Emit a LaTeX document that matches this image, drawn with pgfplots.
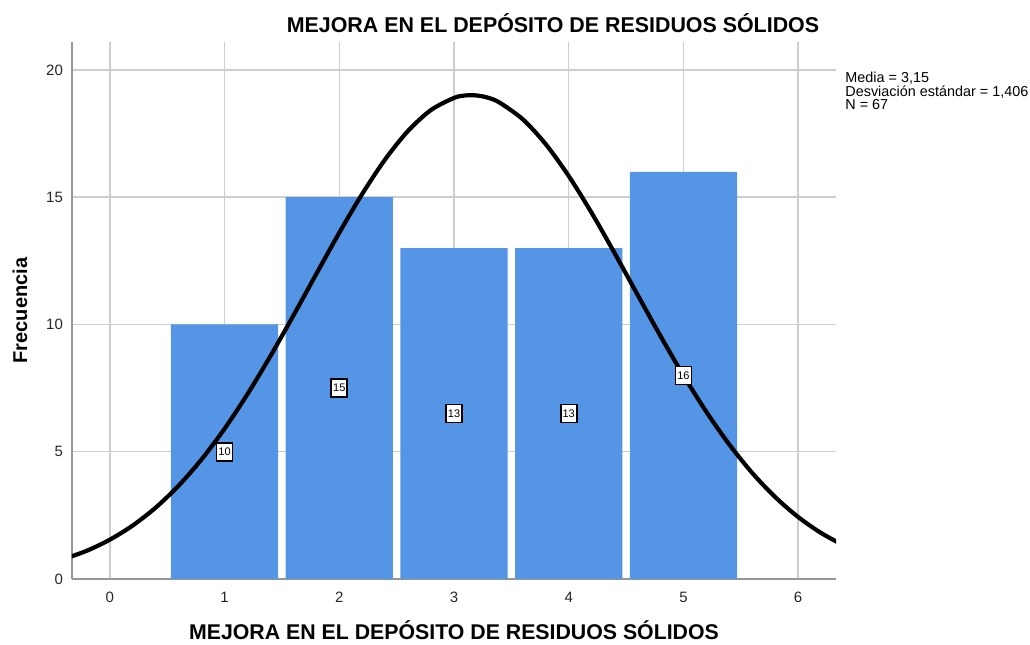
\documentclass[border=0pt]{standalone}
\usepackage{pgfplots}
\pgfplotsset{compat=1.18}
\usepackage{fontspec}
\setmainfont{Liberation Sans}
\definecolor{barblue}{RGB}{84,149,229}
\definecolor{gridgray}{RGB}{206,206,206}
\definecolor{axgray}{RGB}{150,150,150}
\begin{document}
\begin{tikzpicture}
\begin{axis}[
 scale only axis, width=382pt, height=268.5pt,
 xmin=-0.33, xmax=6.33, ymin=0, ymax=21.1,
 axis x line=bottom, axis y line=left,
 axis line style={-, draw=axgray, line width=1pt},
 xtick={0,1,2,3,4,5,6}, ytick={0,5,10,15,20},
 major tick length=0pt,
 grid=major, grid style={draw=gridgray, line width=0.75pt},
 tick label style={font=\fontsize{7.5}{9}\selectfont, text=black!85},
 xticklabel style={yshift=-3pt}, yticklabel style={xshift=-1pt},
 /pgf/number format/assume math mode=true,
 clip mode=individual,
]
\addplot[ybar, bar width=0.935, fill=barblue, draw=none] coordinates {
 (1,10) (2,15) (3,13) (4,13) (5,16)
};
\addplot[black, line width=2.1pt, smooth] coordinates {
 (-0.4,0.785) (-0.2,1.112) (0,1.545) (0.2,2.104) (0.4,2.807) (0.6,3.670)
 (0.8,4.703) (1.0,5.905) (1.2,7.266) (1.4,8.761) (1.6,10.353) (1.8,11.989)
 (2.0,13.606) (2.2,15.130) (2.4,16.489) (2.6,17.610) (2.8,18.430) (3.0,18.902)
 (3.1,19.000) (3.2,18.998) (3.3,18.906) (3.4,18.712) (3.6,18.061) (3.8,17.083) (4.0,15.835)
 (4.2,14.384) (4.4,12.804) (4.6,11.170) (4.8,9.548) (5.0,7.999) (5.2,6.567)
 (5.4,5.283) (5.6,4.165) (5.8,3.218) (6.0,2.436) (6.2,1.808) (6.4,1.314)
};
\addplot[draw=none, mark=none, nodes near coords, point meta=explicit symbolic,
 every node near coord/.style={anchor=center, fill=white, draw=black, line width=0.8pt,
 inner sep=0.8pt, minimum width=8pt, minimum height=9pt, font=\fontsize{5.5}{6}\selectfont}]
 coordinates {(1,5)[10] (2,7.5)[15] (3,6.5)[13] (4,6.5)[13] (5,8)[16]};
\coordinate (bl) at (rel axis cs:0,0);
\coordinate (tr) at (rel axis cs:1,1);
\node[font=\bfseries\fontsize{10.7}{12}\selectfont, anchor=base] at ([shift={(49.5pt,4.5pt)}]rel axis cs:0.5,1) {MEJORA EN EL DEPÓSITO DE RESIDUOS SÓLIDOS};
\node[font=\bfseries\fontsize{10.65}{12}\selectfont, anchor=base] at ([shift={(0pt,-30pt)}]rel axis cs:0.5,0) {MEJORA EN EL DEPÓSITO DE RESIDUOS SÓLIDOS};
\node[font=\bfseries\fontsize{10}{12}\selectfont, rotate=90, anchor=center] at ([shift={(-26pt,0pt)}]rel axis cs:0,0.5) {Frecuencia};
\node[font=\fontsize{7.2}{6.7}\selectfont, anchor=north west, align=left, inner sep=0pt] at ([shift={(4.5pt,-15pt)}]rel axis cs:1,1) {Media = 3,15\\Desviación estándar = 1,406\\N = 67};
\end{axis}
\pgfresetboundingbox
\useasboundingbox ([shift={(-36pt,-32.5pt)}]bl) rectangle ([shift={(97pt,21pt)}]tr);
\end{tikzpicture}
\end{document}
